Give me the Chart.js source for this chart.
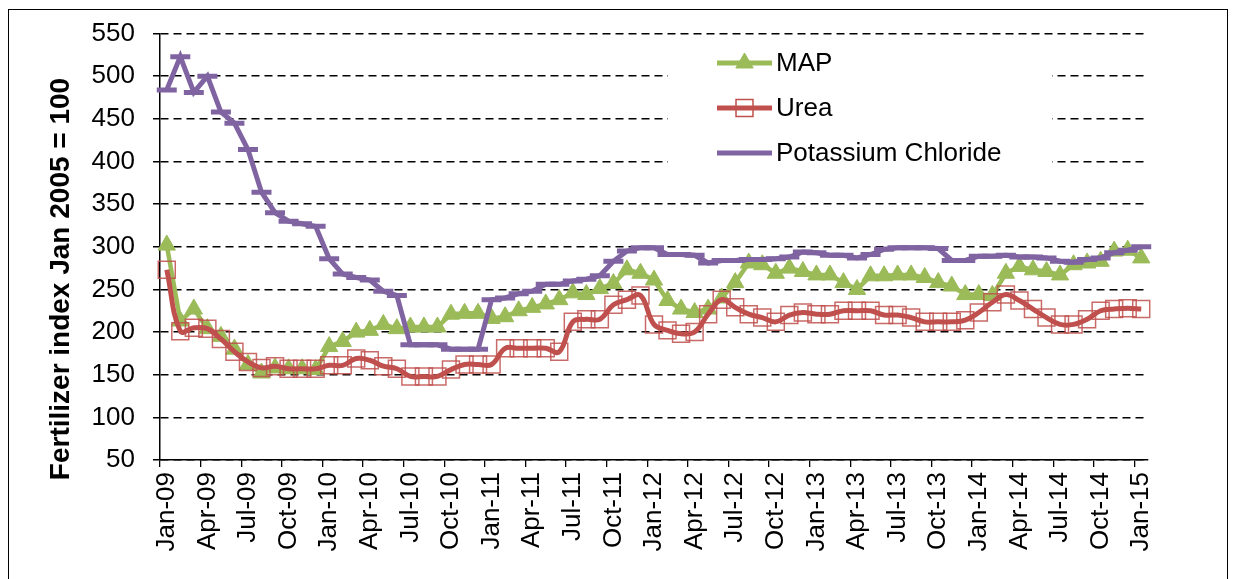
<!DOCTYPE html>
<html>
<head>
<meta charset="utf-8">
<script src="https://cdn.jsdelivr.net/npm/chart.js@4.4.0/dist/chart.umd.min.js"></script>
<style>
  html, body { margin: 0; padding: 0; background: #fff; overflow: hidden; }
  #wrap { position: relative; width: 1235px; height: 579px; }
</style>
</head>
<body>
<div id="wrap"><canvas id="chart"></canvas></div>
<script>
const months = [
  'Jan-09','Feb-09','Mar-09','Apr-09','May-09','Jun-09','Jul-09','Aug-09','Sep-09','Oct-09','Nov-09','Dec-09',
  'Jan-10','Feb-10','Mar-10','Apr-10','May-10','Jun-10','Jul-10','Aug-10','Sep-10','Oct-10','Nov-10','Dec-10',
  'Jan-11','Feb-11','Mar-11','Apr-11','May-11','Jun-11','Jul-11','Aug-11','Sep-11','Oct-11','Nov-11','Dec-11',
  'Jan-12','Feb-12','Mar-12','Apr-12','May-12','Jun-12','Jul-12','Aug-12','Sep-12','Oct-12','Nov-12','Dec-12',
  'Jan-13','Feb-13','Mar-13','Apr-13','May-13','Jun-13','Jul-13','Aug-13','Sep-13','Oct-13','Nov-13','Dec-13',
  'Jan-14','Feb-14','Mar-14','Apr-14','May-14','Jun-14','Jul-14','Aug-14','Sep-14','Oct-14','Nov-14','Dec-14',
  'Jan-15'
];

const mapIdx = [
  302, 213, 227, 204, 195, 180, 162, 152, 158, 157, 157, 156,
  183, 189, 200, 202, 209, 204, 206, 206, 206, 221, 222, 222,
  216, 218, 225, 229, 233, 238, 246, 244, 251, 257, 273, 269,
  261, 237, 227, 223, 227, 240, 258, 281, 279, 269, 275, 271,
  267, 267, 258, 250, 266, 266, 267, 267, 264, 258, 254, 244,
  244, 243, 269, 277, 273, 271, 267, 279, 281, 283, 295, 296,
  287
];

const ureaIdx = [
  273, 201, 205, 204, 192, 177, 165, 158, 160, 157, 157, 157,
  161, 161, 169, 167, 160, 157, 148, 148, 148, 156, 162, 162,
  162, 181, 181, 181, 181, 177, 212, 215, 215, 232, 238, 243,
  209, 202, 198, 200, 221, 238, 229, 221, 217, 212, 220, 223,
  221, 221, 225, 225, 225, 220, 220, 217, 212, 212, 212, 214,
  223, 235, 244, 237, 227, 217, 209, 209, 215, 225, 227, 228,
  227
];

const potashIdx = [
  484, 523, 481, 500, 458, 445, 414, 364, 340, 330, 327, 324,
  286, 268, 264, 261, 248, 243, 185, 185, 185, 180, 180, 180,
  238, 240, 245, 248, 256, 256, 260, 262, 266, 283, 295, 299,
  299, 291, 291, 290, 281, 284, 284, 285, 285, 286, 288, 294,
  293, 290, 290, 287, 291, 297, 299, 299, 299, 298, 284, 284,
  289, 289, 290, 288, 288, 287, 283, 282, 285, 287, 293, 296,
  300
];

const yTitle = 'Fertilizer index Jan 2005 = 100';
const FONT = "'Liberation Sans', Arial, sans-serif";
const GREEN = '#9BBB59', RED = '#C0504D', PURPLE = '#8064A2';

// frame, rotated axis title and the Excel-style legend box
const decor = {
  id: 'decor',
  afterDraw(chart) {
    const ctx = chart.ctx;
    ctx.save();
    ctx.strokeStyle = '#000';
    ctx.lineWidth = 1;
    ctx.strokeRect(8.5, 9.5, 1219, 640);

    ctx.save();
    ctx.translate(61, 279);
    ctx.rotate(-Math.PI / 2);
    ctx.font = 'bold 28px ' + FONT;
    ctx.fillStyle = '#000';
    ctx.textAlign = 'center';
    ctx.textBaseline = 'middle';
    ctx.fillText(yTitle, 0, 0);
    ctx.restore();

    // legend
    ctx.fillStyle = '#fff';
    ctx.fillRect(668, 40, 384, 140);
    const items = [
      { label: 'MAP', color: GREEN, y: 63, point: { pointStyle: 'triangle', radius: 10, borderWidth: 1 }, fill: GREEN },
      { label: 'Urea', color: RED, y: 108, point: { pointStyle: 'rect', radius: 12, borderWidth: 1.5 }, fill: 'rgba(255,255,255,0)' },
      { label: 'Potassium Chloride', color: PURPLE, y: 153, point: null }
    ];
    items.forEach(it => {
      ctx.strokeStyle = it.color;
      ctx.lineWidth = 5;
      ctx.beginPath();
      ctx.moveTo(717, it.y);
      ctx.lineTo(772, it.y);
      ctx.stroke();
      if (it.point) {
        ctx.fillStyle = it.fill;
        ctx.strokeStyle = it.color;
        ctx.lineWidth = it.point.borderWidth;
        Chart.helpers.drawPoint(ctx, { ...it.point, rotation: 0 }, 744.5, it.y);
      }
      ctx.fillStyle = '#000';
      ctx.font = '26px ' + FONT;
      ctx.textAlign = 'left';
      ctx.textBaseline = 'middle';
      ctx.fillText(it.label, 776, it.y + 1);
    });
    ctx.restore();
  }
};

new Chart(document.getElementById('chart').getContext('2d'), {
  type: 'line',
  data: {
    labels: months,
    datasets: [
      { label: 'MAP', data: mapIdx, borderColor: GREEN, backgroundColor: GREEN, borderWidth: 4.5, tension: 0,
        pointStyle: 'triangle', pointRadius: 10, pointBackgroundColor: GREEN, pointBorderColor: GREEN, pointBorderWidth: 1, order: 3 },
      { label: 'Urea', data: ureaIdx, borderColor: RED, backgroundColor: RED, borderWidth: 5, tension: 0.4,
        pointStyle: 'rect', pointRadius: 12, pointBackgroundColor: 'rgba(255,255,255,0)', pointBorderColor: 'rgba(192,80,77,0.85)', pointBorderWidth: 1.5, order: 2 },
      { label: 'Potassium Chloride', data: potashIdx, borderColor: PURPLE, backgroundColor: PURPLE, borderWidth: 5, tension: 0,
        pointStyle: 'line', pointRadius: 10, pointBorderColor: PURPLE, pointBorderWidth: 5, order: 1 },
    ],
  },
  options: {
    responsive: true, maintainAspectRatio: false, animation: false,
    layout: { padding: { left: 0, top: 27, right: 87, bottom: 0 } },
    plugins: { legend: { display: false }, tooltip: { enabled: false } },
    scales: {
      x: {
        offset: true,
        grid: { offset: true, drawOnChartArea: false, tickLength: 7, lineWidth: 1.3,
          color: c => c.index % 3 === 0 ? '#000' : 'rgba(0,0,0,0)' },
        border: { color: '#000', width: 1.5 },
        ticks: { autoSkip: false, minRotation: 90, maxRotation: 90, padding: 5, color: '#000',
          font: { family: FONT, size: 26 }, callback: (v, i) => i % 3 === 0 ? months[i] : '' },
        afterFit: s => { s.height = 119; },
      },
      y: {
        min: 50, max: 550,
        ticks: { stepSize: 50, padding: 18, color: '#000', font: { family: FONT, size: 26 } },
        grid: { color: '#000', lineWidth: 1.5, tickLength: 7 },
        border: { color: '#000', width: 1.5, dash: [8, 5] },
        afterFit: s => { s.width = 160; },
      },
    },
  },
  plugins: [decor],
});
</script>
</body>
</html>
